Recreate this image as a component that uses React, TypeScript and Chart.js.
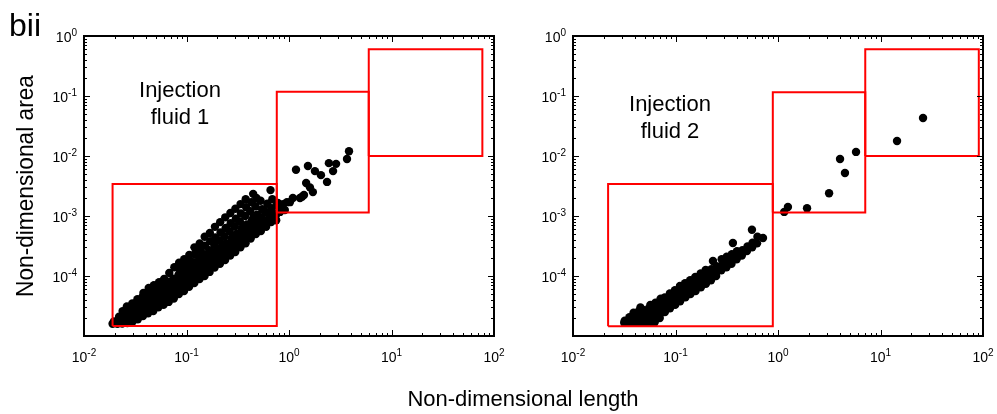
import React, { useEffect, useRef } from "react";
import { Chart, registerables } from "chart.js";

Chart.register(...registerables);

// ---------- data ----------
const fluid1Points: [number, number][] = [
  [0.019, 1.6e-5], [0.0196, 1.75e-5],
  [0.0212, 1.6e-5], [0.0216, 1.85e-5], [0.022, 2.1e-5],
  [0.0236, 1.62e-5], [0.0241, 1.9e-5], [0.0245, 2.3e-5], [0.0238, 2.6e-5],
  [0.0265, 1.65e-5], [0.0272, 2.0e-5], [0.0268, 2.4e-5], [0.0275, 2.9e-5], [0.0262, 3.1e-5],
  [0.0298, 1.75e-5], [0.0305, 2.1e-5], [0.0301, 2.5e-5], [0.0309, 3.0e-5], [0.0296, 3.5e-5],
  [0.0335, 1.9e-5], [0.0342, 2.3e-5], [0.0338, 2.8e-5], [0.0345, 3.3e-5], [0.0332, 4.1e-5],
  [0.0376, 2.15e-5], [0.0384, 2.6e-5], [0.0379, 3.1e-5], [0.0387, 3.7e-5], [0.0373, 4.5e-5], [0.038, 5.2e-5],
  [0.0422, 2.4e-5], [0.0431, 2.9e-5], [0.0426, 3.5e-5], [0.0434, 4.2e-5], [0.0419, 5.0e-5], [0.0428, 6.3e-5],
  [0.0474, 2.6e-5], [0.0483, 3.2e-5], [0.0478, 3.9e-5], [0.0487, 4.7e-5], [0.047, 5.7e-5], [0.0481, 7.0e-5],
  [0.0532, 3.0e-5], [0.0542, 3.6e-5], [0.0537, 4.3e-5], [0.0546, 5.2e-5], [0.0528, 6.3e-5], [0.054, 7.9e-5],
  [0.0597, 3.3e-5], [0.0608, 4.0e-5], [0.0602, 4.8e-5], [0.0613, 5.8e-5], [0.0593, 7.1e-5], [0.0605, 8.9e-5],
  [0.067, 3.7e-5], [0.0682, 4.5e-5], [0.0675, 5.4e-5], [0.0688, 6.5e-5], [0.0665, 8.0e-5], [0.0679, 1.12e-4],
  [0.0752, 4.2e-5], [0.0765, 5.0e-5], [0.0758, 6.0e-5], [0.0772, 7.3e-5], [0.0746, 9.0e-5], [0.0761, 1.4e-4],
  [0.0843, 5.0e-5], [0.0858, 6.0e-5], [0.085, 7.2e-5], [0.0866, 8.8e-5], [0.0837, 1.05e-4], [0.0854, 1.3e-4], [0.0847, 1.66e-4],
  [0.0946, 5.6e-5], [0.0963, 6.7e-5], [0.0955, 8.1e-5], [0.0972, 1.0e-4], [0.0939, 1.25e-4], [0.0958, 1.55e-4], [0.095, 1.9e-4],
  [0.106, 6.6e-5], [0.108, 7.9e-5], [0.107, 9.5e-5], [0.109, 1.15e-4], [0.105, 1.45e-4], [0.1075, 1.8e-4], [0.1065, 2.24e-4],
  [0.119, 7.6e-5], [0.121, 9.2e-5], [0.12, 1.1e-4], [0.122, 1.35e-4], [0.118, 1.7e-4], [0.1205, 2.3e-4], [0.1195, 3.0e-4],
  [0.134, 8.9e-5], [0.136, 1.08e-4], [0.135, 1.3e-4], [0.137, 1.6e-4], [0.133, 2.0e-4], [0.1355, 2.7e-4], [0.1345, 3.5e-4],
  [0.15, 1.0e-4], [0.152, 1.2e-4], [0.151, 1.5e-4], [0.154, 1.85e-4], [0.149, 2.3e-4], [0.1515, 3.2e-4], [0.1505, 4.5e-4],
  [0.168, 1.17e-4], [0.171, 1.4e-4], [0.17, 1.75e-4], [0.173, 2.1e-4], [0.167, 2.7e-4], [0.1705, 3.8e-4], [0.169, 5.2e-4],
  [0.188, 1.38e-4], [0.192, 1.7e-4], [0.19, 2.1e-4], [0.194, 2.6e-4], [0.187, 3.3e-4], [0.191, 4.4e-4], [0.1895, 6.6e-4],
  [0.212, 1.6e-4], [0.216, 1.95e-4], [0.214, 2.4e-4], [0.218, 3.0e-4], [0.21, 3.9e-4], [0.215, 5.3e-4], [0.213, 7.9e-4],
  [0.238, 1.85e-4], [0.242, 2.3e-4], [0.24, 2.8e-4], [0.245, 3.5e-4], [0.236, 4.6e-4], [0.241, 6.3e-4], [0.239, 9.5e-4],
  [0.267, 2.2e-4], [0.272, 2.7e-4], [0.269, 3.3e-4], [0.275, 4.2e-4], [0.264, 5.6e-4], [0.27, 7.6e-4], [0.268, 1.12e-3],
  [0.299, 2.5e-4], [0.305, 3.1e-4], [0.302, 3.9e-4], [0.308, 5.0e-4], [0.296, 6.7e-4], [0.303, 9.0e-4], [0.3, 1.32e-3],
  [0.336, 3.0e-4], [0.342, 3.7e-4], [0.339, 4.6e-4], [0.346, 6.0e-4], [0.332, 8.0e-4], [0.34, 1.1e-3], [0.337, 1.58e-3],
  [0.377, 3.5e-4], [0.384, 4.4e-4], [0.38, 5.5e-4], [0.388, 7.2e-4], [0.373, 1.0e-3], [0.382, 1.4e-3], [0.378, 1.9e-3],
  [0.423, 4.2e-4], [0.431, 5.2e-4], [0.427, 6.6e-4], [0.435, 8.5e-4], [0.419, 1.2e-3], [0.429, 1.7e-3], [0.447, 2.34e-3],
  [0.475, 5.0e-4], [0.484, 6.3e-4], [0.479, 8.0e-4], [0.488, 1.05e-3], [0.471, 1.45e-3], [0.481, 2.0e-3],
  [0.532, 5.6e-4], [0.542, 7.2e-4], [0.537, 9.5e-4], [0.547, 1.3e-3], [0.528, 1.8e-3],
  [0.598, 6.6e-4], [0.609, 8.5e-4], [0.603, 1.15e-3], [0.614, 1.6e-3], [0.66, 2.7e-3],
  [0.67, 7.9e-4], [0.682, 1.0e-3], [0.676, 1.35e-3], [0.688, 1.9e-3],
  [0.75, 8.5e-4], [0.762, 1.1e-3], [0.756, 1.5e-3],
  [0.0205, 1.7e-5], [0.0255, 2.15e-5], [0.0285, 2.7e-5], [0.032, 2.2e-5], [0.036, 3.0e-5],
  [0.0405, 3.9e-5], [0.045, 2.7e-5], [0.0505, 4.3e-5], [0.057, 5.5e-5], [0.064, 4.2e-5],
  [0.071, 6.8e-5], [0.08, 5.5e-5], [0.09, 9.5e-5], [0.1, 7.4e-5], [0.113, 1.3e-4],
  [0.127, 1.0e-4], [0.143, 1.75e-4], [0.16, 1.35e-4], [0.18, 2.4e-4], [0.2, 1.9e-4],
  [0.225, 3.4e-4], [0.253, 2.6e-4], [0.285, 4.6e-4], [0.32, 3.6e-4], [0.36, 6.6e-4],
  [0.4, 5.0e-4], [0.45, 9.5e-4], [0.505, 7.5e-4], [0.57, 1.25e-3], [0.64, 1.05e-3],
  [1.17, 5.9e-3], [1.53, 6.8e-3], [1.79, 5.6e-3], [2.05, 4.8e-3], [2.35, 3.7e-3], [2.45, 7.6e-3],
  [2.88, 7.4e-3], [2.69, 5.6e-3], [3.68, 8.9e-3], [3.85, 1.2e-2], [1.47, 3.55e-3], [1.6, 3.0e-3],
  [1.71, 2.5e-3], [1.34, 2.1e-3], [1.09, 2.0e-3], [1.02, 1.7e-3], [0.875, 1.58e-3], [0.817, 1.35e-3],
  [0.91, 1.26e-3], [0.78, 1.65e-3], [0.817, 1.17e-3], [0.955, 1.7e-3], [1.28, 2.0e-3], [1.4, 2.24e-3],
];

const fluid2Points: [number, number][] = [
  [0.0316, 1.66e-5], [0.032, 1.8e-5],
  [0.0352, 1.66e-5], [0.0358, 1.88e-5], [0.0355, 2.05e-5],
  [0.0395, 1.66e-5], [0.0401, 1.9e-5], [0.0398, 2.2e-5], [0.039, 2.45e-5],
  [0.0443, 1.66e-5], [0.045, 1.92e-5], [0.0447, 2.25e-5], [0.044, 2.6e-5],
  [0.0497, 1.66e-5], [0.0505, 1.92e-5], [0.0501, 2.3e-5], [0.0494, 2.7e-5], [0.0455, 3.0e-5],
  [0.0557, 1.66e-5], [0.0566, 2.0e-5], [0.056, 2.4e-5], [0.0553, 2.9e-5], [0.0568, 3.3e-5],
  [0.0626, 1.7e-5], [0.0636, 2.1e-5], [0.063, 2.6e-5], [0.0622, 3.2e-5], [0.0638, 3.6e-5],
  [0.0702, 2.0e-5], [0.0713, 2.4e-5], [0.0707, 3.0e-5], [0.0698, 3.7e-5], [0.0716, 4.2e-5],
  [0.0788, 2.5e-5], [0.08, 3.0e-5], [0.0793, 3.6e-5], [0.0785, 4.4e-5],
  [0.0884, 2.9e-5], [0.0898, 3.5e-5], [0.089, 4.2e-5], [0.0881, 5.1e-5],
  [0.0992, 3.3e-5], [0.1008, 4.0e-5], [0.0998, 4.8e-5], [0.0988, 5.8e-5],
  [0.111, 3.8e-5], [0.113, 4.6e-5], [0.112, 5.5e-5], [0.1105, 6.8e-5],
  [0.125, 4.4e-5], [0.127, 5.3e-5], [0.126, 6.3e-5], [0.124, 7.6e-5],
  [0.14, 5.0e-5], [0.142, 6.0e-5], [0.141, 7.2e-5], [0.139, 8.5e-5],
  [0.157, 5.6e-5], [0.159, 6.8e-5], [0.158, 8.1e-5], [0.156, 9.6e-5],
  [0.177, 6.5e-5], [0.179, 7.8e-5], [0.178, 9.3e-5], [0.176, 1.1e-4],
  [0.198, 7.4e-5], [0.202, 8.9e-5], [0.2, 1.07e-4], [0.197, 1.26e-4],
  [0.222, 8.5e-5], [0.226, 1.05e-4], [0.224, 1.3e-4], [0.232, 1.78e-4],
  [0.249, 1.0e-4], [0.253, 1.2e-4], [0.251, 1.45e-4],
  [0.28, 1.25e-4], [0.284, 1.5e-4], [0.282, 1.9e-4],
  [0.314, 1.4e-4], [0.318, 1.7e-4], [0.316, 2.1e-4],
  [0.352, 1.6e-4], [0.358, 1.9e-4], [0.355, 2.3e-4], [0.363, 3.55e-4],
  [0.395, 1.9e-4], [0.401, 2.3e-4], [0.398, 2.6e-4],
  [0.444, 2.2e-4], [0.45, 2.7e-4],
  [0.498, 2.6e-4], [0.51, 2.95e-4], [0.504, 3.1e-4],
  [0.557, 5.9e-4], [0.56, 3.0e-4], [0.565, 3.6e-4],
  [0.63, 4.5e-4], [0.625, 3.5e-4],
  [0.714, 4.3e-4],
  [0.037, 1.75e-5], [0.047, 2.05e-5], [0.059, 2.7e-5], [0.067, 2.2e-5], [0.075, 3.3e-5],
  [0.084, 3.9e-5], [0.094, 4.6e-5], [0.106, 5.1e-5], [0.119, 5.9e-5], [0.133, 6.6e-5],
  [0.149, 7.6e-5], [0.167, 8.6e-5], [0.188, 9.9e-5], [0.211, 1.15e-4], [0.237, 1.15e-4],
  [0.265, 1.4e-4], [0.298, 1.6e-4], [0.335, 1.9e-4], [0.375, 2.15e-4], [0.42, 2.45e-4],
  [1.15, 1.17e-3], [1.25, 1.41e-3], [1.92, 1.35e-3], [3.15, 2.4e-3], [4.5, 5.2e-3],
  [4.03, 8.9e-3], [5.77, 1.17e-2], [14.5, 1.78e-2], [26, 4.3e-2],
];

// red boxes: [min, max] ranges
const fluid1BoxX: [number, number][] = [[0.019, 0.76], [0.76, 6.0], [6.0, 77]];
const fluid1BoxY: [number, number][] = [[1.47e-5, 3.4e-3], [1.14e-3, 0.118], [1e-2, 0.6]];
const fluid2BoxX: [number, number][] = [[0.022, 0.89], [0.89, 7.1], [7.1, 91]];
const fluid2BoxY: [number, number][] = [[1.45e-5, 3.4e-3], [1.14e-3, 0.115], [1e-2, 0.6]];

const xTickExponents = [-2, -1, 0, 1, 2];
const yTickExponents = [0, -1, -2, -3, -4];
const xRange: [number, number] = [1e-2, 1e2];
const yRange: [number, number] = [1e-5, 1];

const FONT = '"Liberation Sans", Arial, Helvetica, sans-serif';

function drawPow(ctx: CanvasRenderingContext2D, exp: number, x: number, baseline: number, align: "center" | "right") {
  const base = "10";
  const ex = String(exp);
  ctx.font = `14px ${FONT}`;
  const bw = ctx.measureText(base).width;
  ctx.font = `10px ${FONT}`;
  const ew = ctx.measureText(ex).width;
  const total = bw + ew;
  const start = align === "center" ? x - total / 2 : x - total;
  ctx.textAlign = "left";
  ctx.textBaseline = "alphabetic";
  ctx.font = `14px ${FONT}`;
  ctx.fillText(base, start, baseline);
  ctx.font = `10px ${FONT}`;
  ctx.fillText(ex, start + bw, baseline - 6.5);
}

const framePlugin = {
  id: "frameTicks",
  afterDraw(chart: any) {
    const { ctx, chartArea: a, scales } = chart;
    const xs = scales.x;
    const ys = scales.y;
    ctx.save();
    ctx.strokeStyle = "#000";
    ctx.fillStyle = "#000";
    ctx.lineWidth = 1;
    ctx.beginPath();
    const xl = Math.log10(xRange[0]);
    const xh = Math.log10(xRange[1]);
    for (let d = xl; d <= xh; d++) {
      for (let m = 1; m <= 9; m++) {
        if (d === xh && m > 1) break;
        const px = Math.round(xs.getPixelForValue(m * Math.pow(10, d))) + 0.5;
        const len = m === 1 ? 6 : 3;
        ctx.moveTo(px, a.bottom);
        ctx.lineTo(px, a.bottom - len);
        ctx.moveTo(px, a.top);
        ctx.lineTo(px, a.top + len);
      }
    }
    const yl = Math.log10(yRange[0]);
    const yh = Math.log10(yRange[1]);
    for (let d = yl; d <= yh; d++) {
      for (let m = 1; m <= 9; m++) {
        if (d === yh && m > 1) break;
        const py = Math.round(ys.getPixelForValue(m * Math.pow(10, d))) + 0.5;
        const len = m === 1 ? 6 : 3;
        ctx.moveTo(a.left, py);
        ctx.lineTo(a.left + len, py);
        ctx.moveTo(a.right, py);
        ctx.lineTo(a.right - len, py);
      }
    }
    ctx.stroke();
    ctx.lineWidth = 2;
    ctx.strokeRect(a.left, a.top, a.right - a.left, a.bottom - a.top);

    for (const e of xTickExponents) {
      const px = xs.getPixelForValue(Math.pow(10, e));
      drawPow(ctx, e, px, a.bottom + 26, "center");
    }
    for (const e of yTickExponents) {
      const py = ys.getPixelForValue(Math.pow(10, e));
      drawPow(ctx, e, a.left - 7, py + 6, "right");
    }
    ctx.restore();
  },
};

function boxPath(xr: [number, number], yr: [number, number]) {
  return [
    { x: xr[0], y: yr[0] },
    { x: xr[1], y: yr[0] },
    { x: xr[1], y: yr[1] },
    { x: xr[0], y: yr[1] },
    { x: xr[0], y: yr[0] },
  ];
}

type PanelProps = {
  points: [number, number][];
  boxX: [number, number][];
  boxY: [number, number][];
  left: number;
  width: number;
  padLeft: number;
  padRight: number;
};

function Panel({ points, boxX, boxY, left, width, padLeft, padRight }: PanelProps) {
  const ref = useRef<HTMLCanvasElement>(null);
  useEffect(() => {
    if (!ref.current) return;
    const boxSets = boxX.map((xr, i) => ({
      type: "scatter" as const,
      data: boxPath(xr, boxY[i]),
      showLine: true,
      borderColor: "#ff0000",
      borderWidth: 2,
      pointRadius: 0,
      fill: false,
      tension: 0,
      order: 0,
    }));
    const chart = new Chart(ref.current, {
      type: "scatter",
      data: {
        datasets: [
          ...boxSets,
          {
            data: points.map(([x, y]) => ({ x, y })),
            backgroundColor: "#000",
            borderColor: "#000",
            borderWidth: 0,
            pointRadius: 4.2,
            pointHoverRadius: 4.2,
            order: 5,
          },
        ],
      },
      options: {
        responsive: false,
        animation: false,
        events: [],
        layout: { padding: { left: padLeft, right: padRight, top: 36, bottom: 78 } },
        plugins: { legend: { display: false }, tooltip: { enabled: false } },
        scales: {
          x: { type: "logarithmic", min: xRange[0], max: xRange[1], display: false },
          y: { type: "logarithmic", min: yRange[0], max: yRange[1], display: false },
        },
      },
      plugins: [framePlugin],
    } as any);
    return () => chart.destroy();
  }, []);
  return (
    <canvas
      ref={ref}
      width={width}
      height={414}
      style={{ position: "absolute", left, top: 0, width, height: 414, display: "block" }}
    />
  );
}

export default function App() {
  const text: React.CSSProperties = { position: "absolute", fontFamily: FONT, color: "#000", whiteSpace: "nowrap" };
  return (
    <div style={{ position: "fixed", left: 0, top: 0, width: 997, height: 414, background: "#fff", overflow: "hidden" }}>
      <Panel points={fluid1Points} boxX={fluid1BoxX} boxY={fluid1BoxY} left={0} width={530} padLeft={84} padRight={36} />
      <Panel points={fluid2Points} boxX={fluid2BoxX} boxY={fluid2BoxY} left={520} width={477} padLeft={53} padRight={14} />
      <div style={{ ...text, left: 9, top: 9, fontSize: 32, lineHeight: "32px" }}>bii</div>
      <div style={{ ...text, left: 120, top: 76, width: 120, textAlign: "center", fontSize: 22, lineHeight: "27px" }}>
        Injection
        <br />
        fluid 1
      </div>
      <div style={{ ...text, left: 610, top: 90, width: 120, textAlign: "center", fontSize: 22, lineHeight: "27px" }}>
        Injection
        <br />
        fluid 2
      </div>
      <div
        style={{
          ...text,
          left: 24.5 - 150,
          top: 186 - 12,
          width: 300,
          height: 24,
          textAlign: "center",
          fontSize: 24,
          lineHeight: "24px",
          transform: "rotate(-90deg) scaleX(0.945)",
        }}
      >
        Non-dimensional area
      </div>
      <div style={{ ...text, left: 523 - 200, top: 388.4, width: 400, textAlign: "center", fontSize: 22, lineHeight: "22px" }}>
        Non-dimensional length
      </div>
    </div>
  );
}
